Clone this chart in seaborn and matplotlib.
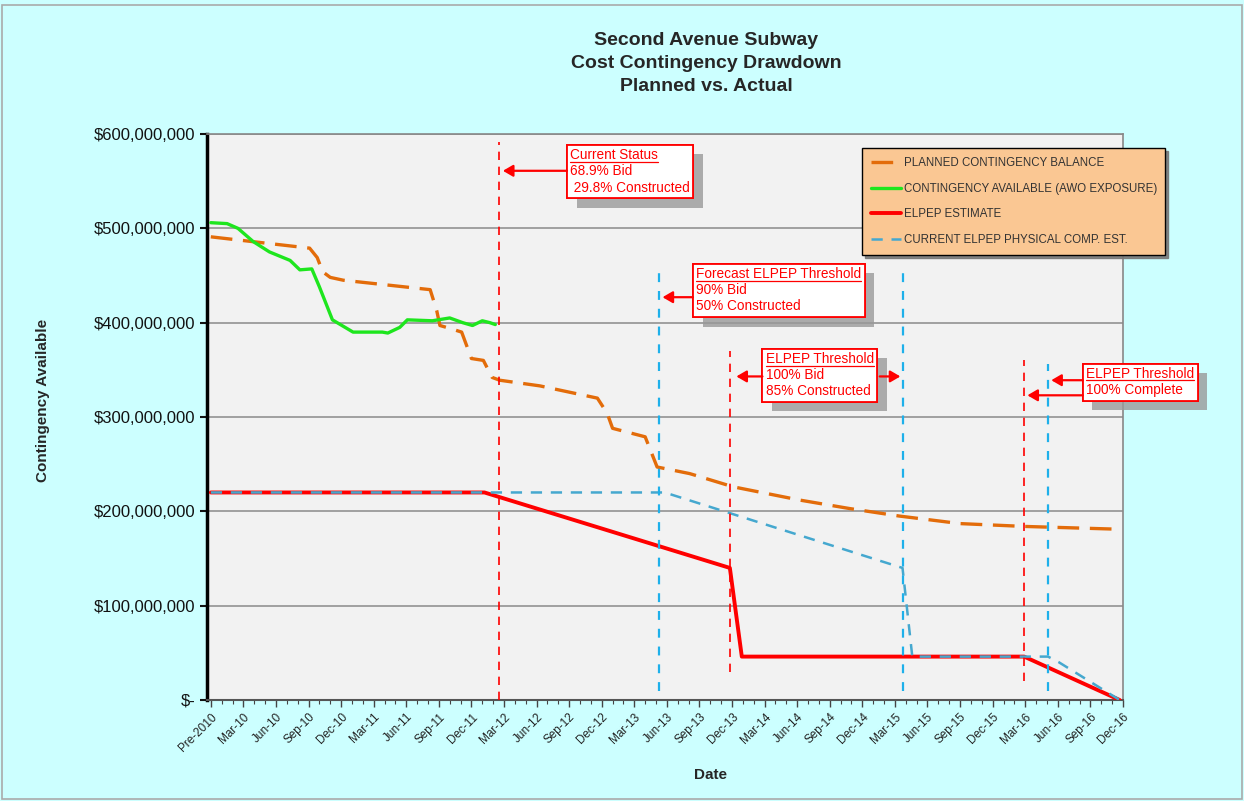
import matplotlib
matplotlib.use("Agg")
import matplotlib.pyplot as plt
import matplotlib.patheffects as pe
from matplotlib.patches import Rectangle
from matplotlib.lines import Line2D
from matplotlib.transforms import IdentityTransform
from matplotlib.ticker import FuncFormatter, MultipleLocator
import seaborn as sns
import pandas as pd

# ---------------- data (x = months since "Pre-2010", values in $ millions) -------------
tick_labels = ["Pre-2010"] + [f"{m}-{y:02d}" for y in range(10, 17) for m in ["Mar", "Jun", "Sep", "Dec"]]

planned_x = [0, 9.1, 9.8, 10.3, 11, 12.2, 20.2, 20.8, 21.1, 22, 23.1, 24, 25.1, 25.9, 26.6,
             30.3, 35.6, 36.5, 37, 40, 41.1, 44.1, 48.1, 54.2, 58.8, 63.4, 69, 74.9, 83.7]
planned_y = [491, 479, 469, 454, 448, 445, 435, 413, 397, 394, 390, 362, 360, 342, 339,
             333, 320, 304, 288, 279, 247, 240, 226, 212, 203, 195, 187, 184, 181]

avail_x = [0, 1.5, 2.5, 3.9, 5.4, 7.3, 8.2, 9.3, 10, 11.2, 13.1, 15.8, 16.3, 17.4, 18.1,
           20.4, 22, 23.2, 24.1, 25, 25.7, 26.2]
avail_y = [506, 505, 500, 486, 475, 466, 456, 457, 438, 403, 390, 390, 389, 395, 403,
           402, 405, 400, 397, 402, 400, 398]

elpep_x = [0, 25.2, 47.8, 48.9, 74.9, 83.7]
elpep_y = [220, 220, 140, 46, 46, 0]

phys_x = [0, 41.8, 63.7, 64.6, 77.1, 78.1, 83.7]
phys_y = [220, 220, 140, 46, 46, 40, 0]

# vertical markers: (x, ymin, ymax) in months / $M
red_vlines = [(26.5, 0, 592), (47.8, 30, 370), (74.9, 20, 360)]
blue_vlines = [(41.3, 10, 461), (63.7, 10, 461), (77.1, 10, 356)]

series_names = ["PLANNED CONTINGENCY BALANCE", "CONTINGENCY AVAILABLE (AWO EXPOSURE)",
                "ELPEP ESTIMATE", "CURRENT ELPEP PHYSICAL COMP. EST."]

# ---------------- style -------------
sns.set_style("white")
plt.rcParams["font.family"] = ["Liberation Sans", "DejaVu Sans"]

ORANGE = "#E36C0A"
GREEN = "#1EE61E"
RED = "#FF0000"
BLUE = "#45A8CF"
VBLUE = "#1EB0EA"

fig = plt.figure(figsize=(12.44, 8.01), dpi=100)
fig.patch.set_facecolor("#CCFFFF")
fig.patches.append(Rectangle((0.002, 0.002), 0.996, 0.992, transform=fig.transFigure,
                             fill=False, edgecolor="#AAAAAA", linewidth=1.2))
ax = fig.add_axes([0.1664, 0.1261, 0.7363, 0.7066])
ax.set_facecolor("#F2F2F2")

df_p = pd.DataFrame({"x": planned_x, "y": planned_y})
df_a = pd.DataFrame({"x": avail_x, "y": avail_y})
df_e = pd.DataFrame({"x": elpep_x, "y": elpep_y})
df_b = pd.DataFrame({"x": phys_x, "y": phys_y})

sns.lineplot(data=df_b, x="x", y="y", ax=ax, color=BLUE, linewidth=1.8, estimator=None, sort=False,
             label=series_names[3], zorder=4)
ax.lines[-1].set_dashes((4.5, 3.5))
sns.lineplot(data=df_e, x="x", y="y", ax=ax, color=RED, linewidth=2.8, estimator=None, sort=False,
             label=series_names[2], zorder=3)
sns.lineplot(data=df_p, x="x", y="y", ax=ax, color=ORANGE, linewidth=2.4, estimator=None, sort=False,
             label=series_names[0], zorder=5)
ax.lines[-1].set_dashes((6.5, 3.2))
sns.lineplot(data=df_a, x="x", y="y", ax=ax, color=GREEN, linewidth=2.4, estimator=None, sort=False,
             label=series_names[1], zorder=6)

for x, y0, y1 in red_vlines:
    ax.vlines(x, y0, y1, colors=RED, linewidth=1.2, linestyles=(0, (5, 4)), zorder=7)
for x, y0, y1 in blue_vlines:
    ax.vlines(x, y0, y1, colors=VBLUE, linewidth=1.6, linestyles=(0, (4, 4)), zorder=7)

# axes
ax.set_xlim(-0.35, 84)
ax.set_ylim(0, 600)
ax.set_xticks(range(0, 85, 3))
ax.set_xticklabels(tick_labels, rotation=45, ha="right", rotation_mode="anchor",
                   fontsize=8.5, color="#222222")
ax.xaxis.set_minor_locator(MultipleLocator(1))
ax.yaxis.set_major_locator(MultipleLocator(100))
ax.yaxis.set_major_formatter(FuncFormatter(lambda v, p: "$-" if v == 0 else f"${v*1e6:,.0f}"))
ax.tick_params(axis="y", labelsize=12, colors="#111111", length=5, width=1.5, direction="out", left=True)
ax.tick_params(axis="x", which="major", length=5, width=1, direction="out", bottom=True, pad=3, colors="#444444")
ax.tick_params(axis="x", which="minor", length=3, width=0.8, direction="out", bottom=True, colors="#444444")
for lbl in ax.get_xticklabels():
    lbl.set_color("#222222")
ax.grid(axis="y", color="#A0A0A0", linewidth=1.4)
ax.grid(axis="x", visible=False)
ax.set_axisbelow(True)
ax.spines["left"].set_color("black")
ax.spines["left"].set_linewidth(2.5)
ax.spines["bottom"].set_color("#555555")
ax.spines["bottom"].set_linewidth(1.5)
for s in ["top", "right"]:
    ax.spines[s].set_color("#888888")
    ax.spines[s].set_linewidth(1.2)

ax.set_xlabel("Date", fontsize=11, fontweight="bold")
ax.set_ylabel("Contingency Available", fontsize=11, fontweight="bold")
ax.xaxis.set_label_coords(0.55, -0.12)
ax.yaxis.set_label_coords(-0.171, 0.53)

fig.text(0.5675, 0.96, "Second Avenue Subway\nCost Contingency Drawdown\nPlanned vs. Actual",
         ha="center", va="top", fontsize=14, fontweight="bold", linespacing=1.45)

# legend
handles, labels = ax.get_legend_handles_labels()
order = [labels.index(n) for n in series_names]
leg = ax.legend([handles[i] for i in order], [labels[i] for i in order],
                loc="upper left", bbox_to_anchor=(0.693, 0.815), bbox_transform=fig.transFigure,
                fontsize=8.3, frameon=True, fancybox=False, shadow={"color": "#777777", "alpha": 0.9},
                facecolor="#FAC793", edgecolor="black", framealpha=1, labelspacing=1.2,
                handlelength=2.6, handletextpad=0.25, borderpad=0.75, borderaxespad=0)
leg.get_frame().set_linewidth(1.0)
for t in leg.get_texts():
    t.set_color("#333333")

# annotations
shadow = [pe.withSimplePatchShadow(offset=(7, -7), shadow_rgbFace="#999999", alpha=0.8), pe.Normal()]
notes = []
NOTE_FS = 9.8

def note(x, y, lines):
    t = ax.text(x, y, "\n".join(lines), ha="left", va="top", fontsize=NOTE_FS, color=RED, linespacing=1.2,
                zorder=10,
                bbox=dict(boxstyle="square,pad=0.25", facecolor="white", edgecolor=RED, linewidth=1.3))
    t.get_bbox_patch().set_path_effects(shadow)
    notes.append((t, lines))

def arrow(x0, y0, x1, y1):
    ax.annotate("", xy=(x1, y1), xytext=(x0, y0), zorder=11,
                arrowprops=dict(arrowstyle="-|>,head_length=0.6,head_width=0.35", color=RED, lw=1.6,
                                shrinkA=0, shrinkB=0))

note(33.1, 585, ["Current Status", "68.9% Bid", " 29.8% Constructed"])
arrow(32.8, 561, 26.9, 561)

note(44.7, 459, ["Forecast ELPEP Threshold", "90% Bid", "50% Constructed"])
arrow(44.4, 427, 41.6, 427)

note(51.1, 369, ["ELPEP Threshold", "100% Bid", "85% Constructed"])
arrow(50.8, 343, 48.4, 343)
arrow(61.6, 343, 63.5, 343)

note(80.6, 353, ["ELPEP Threshold", "100% Complete"])
arrow(80.3, 339, 77.4, 339)
arrow(80.3, 323, 75.2, 323)

# underline first line of each note
fig.canvas.draw()
renderer = fig.canvas.get_renderer()
for t, lines in notes:
    bb = t.get_window_extent(renderer)
    tmp = fig.text(0, 0, lines[0], fontsize=NOTE_FS)
    w = tmp.get_window_extent(renderer).width
    tmp.remove()
    lh = bb.height / len(lines)
    yb = bb.y1 - lh * 0.88
    fig.add_artist(Line2D([bb.x0, bb.x0 + w], [yb, yb], transform=IdentityTransform(),
                          color=RED, linewidth=0.9, zorder=20))

fig.savefig("out.png", dpi=100, facecolor=fig.get_facecolor())
